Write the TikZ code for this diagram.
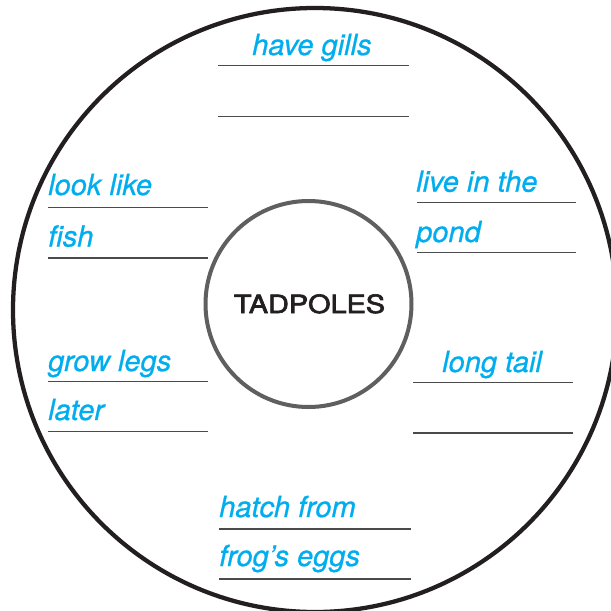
\documentclass[tikz,border=0pt]{standalone}
\usepackage{fontspec}
\setmainfont{TeX Gyre Heros}
\newfontfamily\titlefont[FakeBold=2.5]{TeX Gyre Heros}
\newfontfamily\lblfont[FakeBold=0.8]{TeX Gyre Heros}
\definecolor{lblblue}{HTML}{00AEEF}
\definecolor{ringdark}{HTML}{231F20}
\definecolor{ringgray}{HTML}{5F5F5F}
\definecolor{linegray}{HTML}{4A4A4A}
\tikzset{
  lbl/.style={anchor=base west, inner sep=0pt, text=lblblue, font=\lblfont\fontsize{21.75pt}{24pt}\selectfont\itshape},
  wline/.style={draw=linegray, line width=1.1pt},
}
\begin{document}
\begin{tikzpicture}[x=0.75pt,y=-0.75pt]
\useasboundingbox (0,0) rectangle (611,611);
\clip (0,0) rectangle (611,611);
\fill[white] (0,0) rectangle (611,611);
\draw[ringdark, line width=3.2pt] (315,310) circle[radius=302];
\node[draw=ringgray, line width=3pt, circle, minimum size=154.5pt, inner sep=0pt] (center) at (308.5,304) {};
\node[inner sep=0pt, anchor=base, text=ringdark, font=\titlefont\fontsize{18.8pt}{20pt}\selectfont] (title) at (309.5,313) {\scalebox{1.15}[1]{TADPOLES}};
% top
\node[lbl] (t1) at (252,55) {have gills};
\draw[wline] (218,65.7) -- (409,65.7);
\draw[wline] (218,116.7) -- (409,116.7);
% upper left
\node[lbl] (ul1) at (48,195) {look like};
\node[lbl] (ul2) at (48,246.5) {fish};
\draw[wline] (48,207.7) -- (208,207.7);
\draw[wline] (48,258) -- (208,258);
% upper right
\node[lbl] (ur1) at (416,191.7) {live in the};
\node[lbl] (ur2) at (416,242) {pond};
\draw[wline] (417,202.3) -- (576,202.3);
\draw[wline] (417,252.7) -- (576,252.7);
% lower left
\node[lbl] (ll1) at (48,371) {grow legs};
\node[lbl] (ll2) at (48,420) {later};
\draw[wline] (48,381.7) -- (208,381.7);
\draw[wline] (48,431.5) -- (208,431.5);
% lower right
\node[lbl] (lr1) at (442,372) {long tail};
\draw[wline] (413,382.7) -- (573,382.7);
\draw[wline] (413,433) -- (573,433);
% bottom
\node[lbl] (b1) at (219,517) {hatch from};
\node[lbl] (b2) at (219,566) {frog’s eggs};
\draw[wline] (219,529) -- (411,529);
\draw[wline] (219,579) -- (411,579);
\end{tikzpicture}
\end{document}
